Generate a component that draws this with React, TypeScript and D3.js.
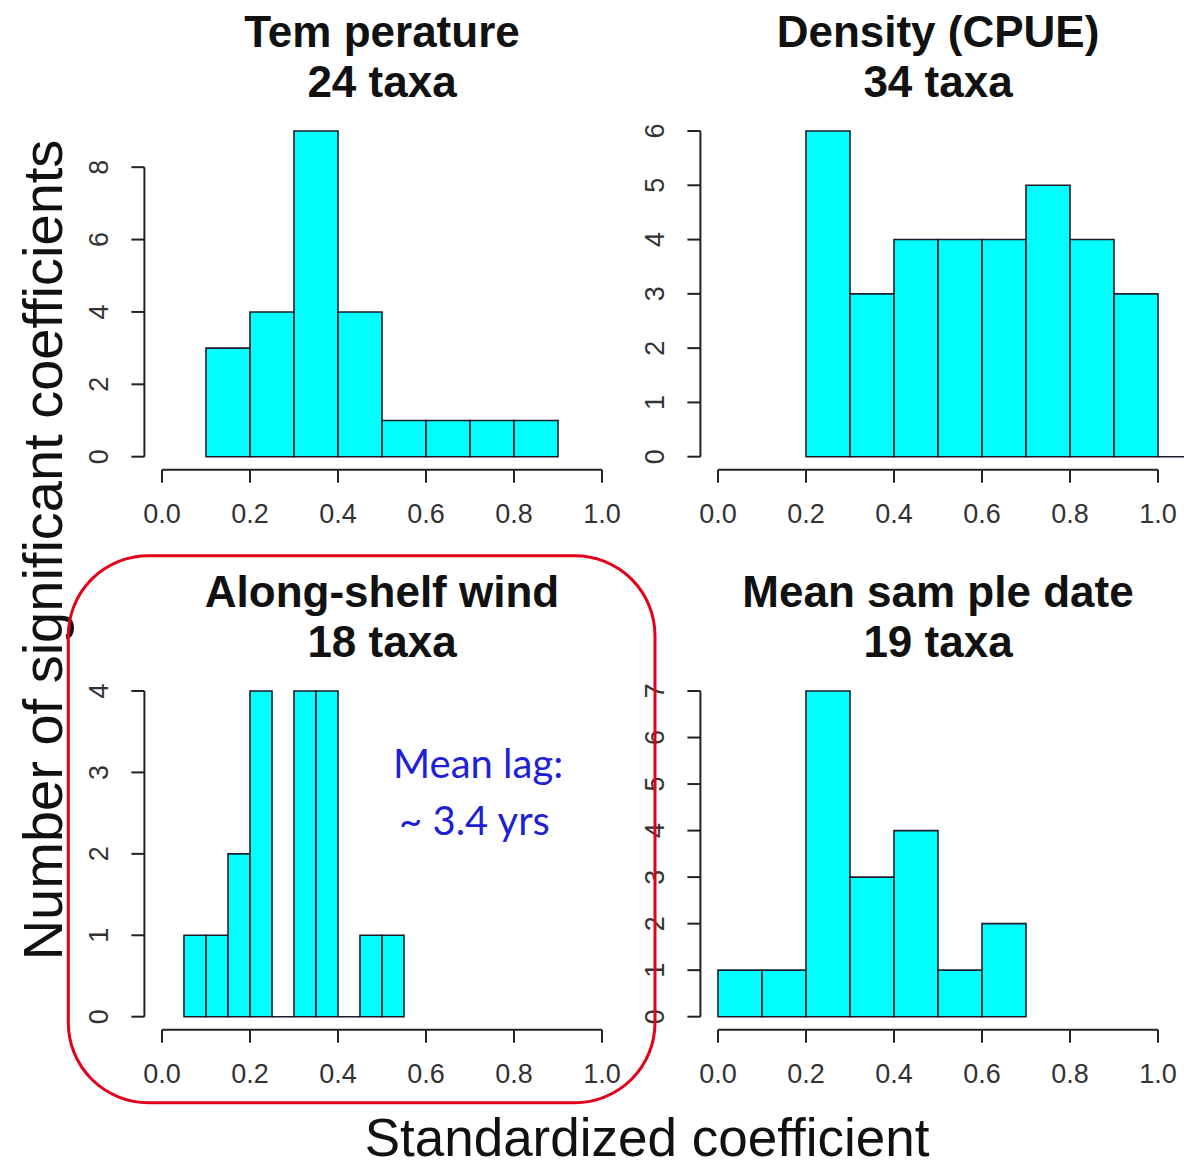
import React from "react";
import * as d3 from "d3";

// ---- Data ----
const tempBreaks = [0.1, 0.2, 0.3, 0.4, 0.5, 0.6, 0.7, 0.8, 0.9];
const tempCounts = [3, 4, 9, 4, 1, 1, 1, 1];

const densityBreaks = [0.2, 0.3, 0.4, 0.5, 0.6, 0.7, 0.8, 0.9, 1.0, 1.1];
const densityCounts = [6, 3, 4, 4, 4, 5, 4, 3, 0];

const windBreaks = [0.05, 0.1, 0.15, 0.2, 0.25, 0.3, 0.35, 0.4, 0.45, 0.5, 0.55];
const windCounts = [1, 1, 2, 4, 0, 4, 4, 0, 1, 1];

const dateBreaks = [0.0, 0.1, 0.2, 0.3, 0.4, 0.5, 0.6, 0.7];
const dateCounts = [1, 1, 7, 3, 4, 1, 2];

const xTicks = [0, 0.2, 0.4, 0.6, 0.8, 1.0];
const tempYTicks = [0, 2, 4, 6, 8];
const densityYTicks = [0, 1, 2, 3, 4, 5, 6];
const windYTicks = [0, 1, 2, 3, 4];
const dateYTicks = [0, 1, 2, 3, 4, 5, 6, 7];

const titles1 = ["Tem perature", "Density (CPUE)", "Along-shelf wind", "Mean sam ple date"];
const titles2 = ["24 taxa", "34 taxa", "18 taxa", "19 taxa"];

const yAxisTitle = "Number of significant coefficients";
const xAxisTitle = "Standardized coefficient";
const noteLines = ["Mean lag:", "~ 3.4 yrs"];

// ---- Layout ----
const W = 1184;
const H = 1166;
const colX0 = [162, 718];
const plotW = 440;
const rowY0 = [456.7, 1016.7];
const plotH = 325.7;

const panels = [
  { breaks: tempBreaks, counts: tempCounts, yTicks: tempYTicks, col: 0, row: 0 },
  { breaks: densityBreaks, counts: densityCounts, yTicks: densityYTicks, col: 1, row: 0 },
  { breaks: windBreaks, counts: windCounts, yTicks: windYTicks, col: 0, row: 1 },
  { breaks: dateBreaks, counts: dateCounts, yTicks: dateYTicks, col: 1, row: 1 },
];

const FONT = "'Liberation Sans', Arial, sans-serif";

function Panel({ p, i }: { p: any; i: number }) {
  const x = d3.scaleLinear().domain([0, 1]).range([colX0[p.col], colX0[p.col] + plotW]);
  const yMax = d3.max(p.counts as number[]) as number;
  const y = d3.scaleLinear().domain([0, yMax]).range([rowY0[p.row], rowY0[p.row] - plotH]);
  const axisX = x(-0.04);
  const axisY = y(-0.04 * yMax);
  const tick = 13;
  const cx = x(0.5);
  const tickLast = p.yTicks[p.yTicks.length - 1];

  const bars = (p.counts as number[]).map((c, k) => {
    const p0 = d3.path();
    const x0 = x(p.breaks[k]);
    const x1 = x(p.breaks[k + 1]);
    p0.moveTo(x0, y(0));
    p0.lineTo(x0, y(c));
    p0.lineTo(x1, y(c));
    p0.lineTo(x1, y(0));
    p0.closePath();
    return p0.toString();
  });

  return (
    <g>
      <text x={cx} y={rowY0[p.row] - 410} textAnchor="middle" fontFamily={FONT} fontWeight="bold" fontSize={44} fill="#111">
        {titles1[i]}
      </text>
      <text x={cx} y={rowY0[p.row] - 360} textAnchor="middle" fontFamily={FONT} fontWeight="bold" fontSize={44} fill="#111">
        {titles2[i]}
      </text>
      {bars.map((d, k) => (
        <path key={k} d={d} fill="#00FFFF" stroke="#1b1b2a" strokeWidth={1.6} />
      ))}
      {/* x axis */}
      <line x1={x(0)} x2={x(1)} y1={axisY} y2={axisY} stroke="#222" strokeWidth={2} />
      {xTicks.map((t) => (
        <g key={t}>
          <line x1={x(t)} x2={x(t)} y1={axisY} y2={axisY + tick} stroke="#222" strokeWidth={2} />
          <text x={x(t)} y={axisY + 53} textAnchor="middle" fontFamily={FONT} fontSize={27} fill="#333">
            {t.toFixed(1)}
          </text>
        </g>
      ))}
      {/* y axis */}
      <line x1={axisX} x2={axisX} y1={y(0)} y2={y(tickLast)} stroke="#222" strokeWidth={2} />
      {(p.yTicks as number[]).map((t) => (
        <g key={t}>
          <line x1={axisX - tick} x2={axisX} y1={y(t)} y2={y(t)} stroke="#222" strokeWidth={2} />
          <text
            transform={`translate(${axisX - 36},${y(t)}) rotate(-90)`}
            textAnchor="middle"
            fontFamily={FONT}
            fontSize={27}
            fill="#333"
          >
            {t}
          </text>
        </g>
      ))}
    </g>
  );
}

export default function App() {
  return (
    <div style={{ position: "absolute", left: 0, top: 0 }}>
      <svg width={W} height={H} viewBox={`0 0 ${W} ${H}`} style={{ display: "block", background: "#fff" }}>
        <rect x={0} y={0} width={W} height={H} fill="#fff" />
        {panels.map((p, i) => (
          <Panel key={i} p={p} i={i} />
        ))}
        <text x={393} y={778} fontFamily="Lato, 'Open Sans', sans-serif" fontSize={40} fill="#1f1fd6">
          {noteLines[0]}
        </text>
        <text x={399} y={835} fontFamily="Lato, 'Open Sans', sans-serif" fontSize={40} fill="#1f1fd6">
          {noteLines[1]}
        </text>
        <text
          transform={`translate(62,550) rotate(-90)`}
          textAnchor="middle"
          fontFamily={FONT}
          fontSize={56}
          fill="#111"
        >
          {yAxisTitle}
        </text>
        <text x={647} y={1156} textAnchor="middle" fontFamily={FONT} fontSize={53} fill="#111">
          {xAxisTitle}
        </text>
        <rect x={68.3} y={555.7} width={586.7} height={547} rx={80} ry={80} fill="none" stroke="#e3001b" strokeWidth={3} />
      </svg>
    </div>
  );
}
